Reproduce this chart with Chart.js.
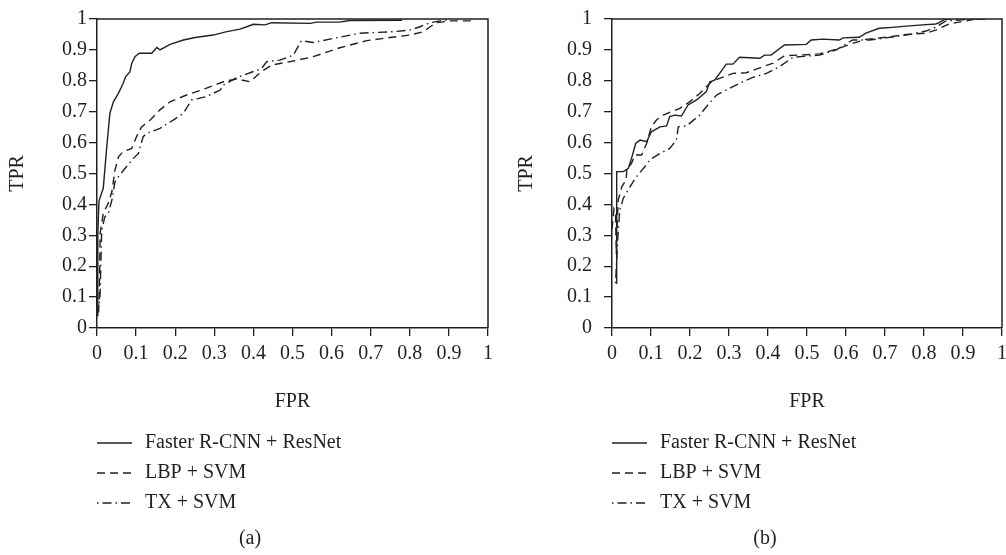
<!DOCTYPE html>
<html>
<head>
<meta charset="utf-8">
<script src="https://cdn.jsdelivr.net/npm/chart.js@4.4.1/dist/chart.umd.min.js"></script>
<style>
  html, body { margin: 0; padding: 0; background: #fff; }
  #wrap { position: relative; width: 1006px; height: 555px; }
  .panel { position: absolute; top: 0; width: 503px; height: 555px; }
</style>
</head>
<body>
<div id="wrap">
  <div class="panel" style="left:0"><canvas id="chartA" width="503" height="555"></canvas></div>
  <div class="panel" style="left:503px"><canvas id="chartB" width="503" height="555"></canvas></div>
</div>
<script>
const seriesNames = ['Faster R-CNN + ResNet', 'LBP + SVM', 'TX + SVM'];
const xTickLabels = ['0', '0.1', '0.2', '0.3', '0.4', '0.5', '0.6', '0.7', '0.8', '0.9', '1'];
const yTickLabels = ['0', '0.1', '0.2', '0.3', '0.4', '0.5', '0.6', '0.7', '0.8', '0.9', '1'];

// panel (a)
const fasterA_fpr = [0, 0.002, 0.005, 0.01, 0.016, 0.025, 0.033, 0.042, 0.055, 0.067, 0.073, 0.084, 0.089, 0.097, 0.108, 0.14, 0.153, 0.161, 0.187, 0.221, 0.251, 0.297, 0.332, 0.366, 0.383, 0.40, 0.43, 0.447, 0.545, 0.562, 0.62, 0.647, 0.78];
const fasterA_tpr = [0.04, 0.3, 0.41, 0.43, 0.452, 0.587, 0.695, 0.732, 0.76, 0.792, 0.813, 0.829, 0.857, 0.878, 0.889, 0.889, 0.908, 0.9, 0.918, 0.932, 0.94, 0.948, 0.959, 0.967, 0.975, 0.983, 0.981, 0.988, 0.986, 0.99, 0.99, 0.995, 0.996];
const lbpA_fpr = [0.004, 0.006, 0.008, 0.016, 0.029, 0.038, 0.046, 0.055, 0.067, 0.089, 0.101, 0.114, 0.136, 0.161, 0.187, 0.229, 0.28, 0.323, 0.357, 0.391, 0.421, 0.447, 0.502, 0.553, 0.621, 0.69, 0.749, 0.80, 0.835, 0.852, 0.869, 0.903, 0.96];
const lbpA_tpr = [0.05, 0.113, 0.307, 0.371, 0.404, 0.441, 0.511, 0.554, 0.571, 0.581, 0.619, 0.651, 0.673, 0.706, 0.732, 0.754, 0.776, 0.797, 0.806, 0.797, 0.83, 0.851, 0.864, 0.878, 0.907, 0.93, 0.94, 0.948, 0.959, 0.975, 0.988, 0.994, 0.994];
const txA_fpr = [0.006, 0.008, 0.012, 0.02, 0.029, 0.038, 0.046, 0.055, 0.072, 0.093, 0.106, 0.118, 0.127, 0.161, 0.195, 0.221, 0.242, 0.28, 0.315, 0.323, 0.357, 0.40, 0.421, 0.434, 0.468, 0.502, 0.523, 0.553, 0.604, 0.673, 0.758, 0.80, 0.826, 0.852, 0.877, 0.90];
const txA_tpr = [0.08, 0.113, 0.317, 0.36, 0.371, 0.414, 0.473, 0.49, 0.517, 0.549, 0.565, 0.619, 0.63, 0.646, 0.673, 0.695, 0.738, 0.749, 0.77, 0.786, 0.81, 0.83, 0.84, 0.862, 0.867, 0.883, 0.93, 0.924, 0.937, 0.954, 0.959, 0.964, 0.975, 0.988, 0.994, 0.998];

// panel (b)
const fasterB_fpr = [0.011, 0.012, 0.029, 0.042, 0.05, 0.061, 0.072, 0.089, 0.101, 0.123, 0.14, 0.148, 0.161, 0.178, 0.195, 0.217, 0.242, 0.251, 0.263, 0.276, 0.293, 0.31, 0.327, 0.379, 0.391, 0.408, 0.442, 0.498, 0.511, 0.54, 0.583, 0.592, 0.634, 0.651, 0.685, 0.719, 0.754, 0.796, 0.83, 0.839, 0.854, 0.87];
const fasterB_tpr = [0.145, 0.506, 0.506, 0.517, 0.549, 0.598, 0.608, 0.603, 0.635, 0.651, 0.654, 0.684, 0.689, 0.686, 0.722, 0.738, 0.765, 0.797, 0.802, 0.824, 0.854, 0.854, 0.876, 0.873, 0.883, 0.883, 0.916, 0.918, 0.932, 0.935, 0.932, 0.939, 0.941, 0.954, 0.97, 0.973, 0.977, 0.981, 0.984, 0.988, 1.0, 1.0];
const lbpB_fpr = [0, 0.005, 0.009, 0.011, 0.013, 0.016, 0.025, 0.036, 0.038, 0.05, 0.059, 0.076, 0.089, 0.101, 0.114, 0.131, 0.174, 0.199, 0.225, 0.242, 0.255, 0.276, 0.31, 0.344, 0.379, 0.413, 0.442, 0.476, 0.532, 0.575, 0.617, 0.651, 0.703, 0.754, 0.805, 0.83, 0.864, 0.933, 0.957];
const lbpB_tpr = [0.32, 0.385, 0.37, 0.24, 0.33, 0.414, 0.457, 0.479, 0.511, 0.533, 0.56, 0.56, 0.598, 0.651, 0.673, 0.689, 0.711, 0.732, 0.759, 0.781, 0.797, 0.808, 0.824, 0.826, 0.842, 0.857, 0.881, 0.883, 0.887, 0.902, 0.921, 0.934, 0.941, 0.95, 0.954, 0.964, 0.984, 1.0, 1.0];
const txB_fpr = [0.009, 0.015, 0.02, 0.029, 0.046, 0.063, 0.084, 0.097, 0.123, 0.148, 0.165, 0.17, 0.191, 0.225, 0.242, 0.268, 0.293, 0.327, 0.361, 0.396, 0.43, 0.464, 0.498, 0.532, 0.575, 0.617, 0.66, 0.703, 0.762, 0.805, 0.83, 0.856, 0.933, 0.96];
const txB_tpr = [0.145, 0.295, 0.382, 0.42, 0.457, 0.49, 0.522, 0.544, 0.565, 0.581, 0.608, 0.651, 0.654, 0.689, 0.716, 0.754, 0.77, 0.792, 0.811, 0.824, 0.846, 0.876, 0.88, 0.883, 0.90, 0.932, 0.932, 0.939, 0.95, 0.961, 0.973, 0.994, 1.0, 1.0];

const ink = '#231f20';
const serif = '"Liberation Serif", "DejaVu Serif", serif';
const dashes = [[], [8, 5], [1.5, 4, 9, 4]];

Chart.defaults.font.family = serif;
Chart.defaults.font.size = 20;
Chart.defaults.color = ink;

const toPoints = (xs, ys) => xs.map((x, i) => ({ x: x, y: ys[i] }));

// top + right frame of the plot box
const boxFrame = {
    id: 'boxFrame',
    afterDraw(chart) {
        const { ctx, chartArea: a } = chart;
        ctx.save();
        ctx.strokeStyle = ink;
        ctx.lineWidth = 1.5;
        ctx.beginPath();
        ctx.moveTo(a.left, a.top);
        ctx.lineTo(a.right, a.top);
        ctx.lineTo(a.right, a.bottom);
        ctx.stroke();
        ctx.restore();
    }
};

// stacked legend under the axis + panel caption
const panelLegend = {
    id: 'panelLegend',
    afterDraw(chart, args, o) {
        const ctx = chart.ctx;
        const left = chart.chartArea.left;
        ctx.save();
        ctx.font = '20px ' + serif;
        ctx.fillStyle = ink;
        ctx.strokeStyle = ink;
        ctx.textBaseline = 'middle';
        chart.data.datasets.forEach((ds, i) => {
            const y = o.rowY[i];
            ctx.lineWidth = 1.3;
            ctx.setLineDash(ds.borderDash || []);
            ctx.beginPath();
            ctx.moveTo(left, y);
            ctx.lineTo(left + 35, y);
            ctx.stroke();
            ctx.setLineDash([]);
            ctx.fillText(ds.label, left + 48, y);
        });
        ctx.textAlign = 'center';
        ctx.fillText(o.caption, o.captionX, o.captionY);
        ctx.restore();
    }
};

function makeChart(id, series, cfg) {
    const datasets = series.map((s, i) => ({
        label: seriesNames[i],
        data: toPoints(s[0], s[1]),
        showLine: true,
        borderColor: ink,
        borderWidth: 1.4,
        borderDash: dashes[i],
        pointRadius: 0,
        tension: 0,
        fill: false
    }));
    return new Chart(document.getElementById(id), {
        type: 'scatter',
        data: { datasets: datasets },
        plugins: [boxFrame, panelLegend],
        options: {
            responsive: false,
            animation: false,
            devicePixelRatio: 1,
            layout: { padding: { top: 19, right: cfg.rightPad, bottom: 141, left: 0 } },
            plugins: {
                legend: { display: false },
                tooltip: { enabled: false },
                panelLegend: { rowY: [443, 473, 503], caption: cfg.caption, captionX: cfg.captionX, captionY: 539 }
            },
            scales: {
                x: {
                    type: 'linear',
                    min: 0, max: 1,
                    afterFit: s => { s.height = 86; s.paddingLeft = 0; s.paddingRight = 0; },
                    border: { display: true, color: ink, width: 1.5 },
                    grid: { drawOnChartArea: false, drawTicks: true, tickLength: 8, color: ink, lineWidth: 1.3 },
                    ticks: {
                        stepSize: 0.1, autoSkip: false, maxRotation: 0, padding: 6, color: ink,
                        callback: (v, i) => xTickLabels[i]
                    },
                    title: { display: true, text: 'FPR', color: ink, font: { size: 20 }, padding: { top: 0, bottom: 0 } }
                },
                y: {
                    type: 'linear',
                    min: 0, max: 1,
                    afterFit: s => { s.width = cfg.yWidth; s.paddingTop = 0; s.paddingBottom = 0; },
                    border: { display: true, color: ink, width: 1.5 },
                    grid: { drawOnChartArea: false, drawTicks: true, tickLength: 8, color: ink, lineWidth: 1.3 },
                    ticks: {
                        stepSize: 0.1, autoSkip: false, padding: cfg.yTickPad, color: ink,
                        callback: (v, i) => yTickLabels[i]
                    },
                    title: { display: true, text: 'TPR', color: ink, font: { size: 20 }, padding: { top: cfg.titlePad, bottom: 0 } }
                }
            }
        }
    });
}

makeChart('chartA', [[fasterA_fpr, fasterA_tpr], [lbpA_fpr, lbpA_tpr], [txA_fpr, txA_tpr]],
    { yWidth: 97, yTickPad: 2, titlePad: 6, rightPad: 15, caption: '(a)', captionX: 250 });
makeChart('chartB', [[fasterB_fpr, fasterB_tpr], [lbpB_fpr, lbpB_tpr], [txB_fpr, txB_tpr]],
    { yWidth: 109, yTickPad: 12, titlePad: 12, rightPad: 4, caption: '(b)', captionX: 262 });
</script>
</body>
</html>
